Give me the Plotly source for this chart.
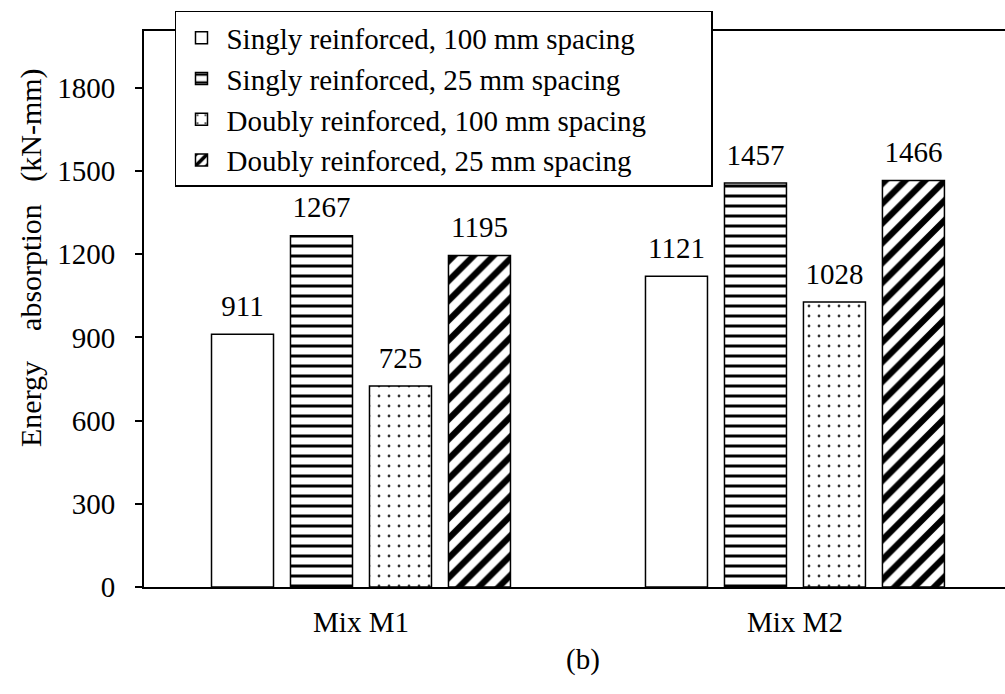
import plotly.graph_objects as go

categories = ["Mix M1", "Mix M2"]
series_names = [
    "Singly reinforced, 100 mm spacing",
    "Singly reinforced, 25 mm spacing",
    "Doubly reinforced, 100 mm spacing",
    "Doubly reinforced, 25 mm spacing",
]
singly_100 = [911, 1121]
singly_25 = [1267, 1457]
doubly_100 = [725, 1028]
doubly_25 = [1195, 1466]
y_ticks = [0, 300, 600, 900, 1200, 1500, 1800]

series_values = [singly_100, singly_25, doubly_100, doubly_25]
patterns = [
    dict(shape=""),
    dict(shape="-", size=10, solidity=0.3, fgcolor="black", bgcolor="white", fgopacity=1),
    dict(shape=".", size=10, solidity=0.06, fgcolor="#333333", bgcolor="white", fgopacity=1),
    dict(shape="/", size=14, solidity=0.45, fgcolor="black", bgcolor="white", fgopacity=1),
]

FONT = "Liberation Serif"
FS = 29
GAP = 0.272

fig = go.Figure()
for i, (name, vals, pat) in enumerate(zip(series_names, series_values, patterns)):
    fig.add_trace(go.Bar(
        x=categories, y=vals, name=name,
        marker=dict(color="white", line=dict(color="black", width=1.5), pattern=pat),
        cliponaxis=False,
    ))
for i, vals in enumerate(series_values):
    fig.add_trace(go.Scatter(
        x=categories, y=vals, mode="markers+text",
        marker=dict(size=16, color="rgba(0,0,0,0)"),
        text=[f"{v}" for v in vals], textposition="top center",
        textfont=dict(family=FONT, size=FS, color="black"),
        showlegend=False, hoverinfo="skip", cliponaxis=False,
    ))

plot_w = 1005 - 144
plot_h = 694 - 31 - 107

fig.update_layout(
    width=1005, height=694,
    margin=dict(l=144, r=0, t=31, b=107),
    paper_bgcolor="white", plot_bgcolor="white",
    font=dict(family=FONT, size=FS, color="black"),
    barmode="group", bargap=GAP, bargroupgap=0.215,
    scattermode="group", scattergap=GAP,
    legend=dict(
        x=0.036, y=1.036, xanchor="left", yanchor="top",
        orientation="h", entrywidth=480, entrywidthmode="pixels",
        itemwidth=40,
        bgcolor="white", bordercolor="black", borderwidth=1.5,
        font=dict(family=FONT, size=FS, color="black"),
        tracegroupgap=0,
    ),
    showlegend=True,
    annotations=[
        dict(text="(b)", x=0.51, y=-0.163, xref="paper", yref="paper",
             showarrow=False, font=dict(family=FONT, size=FS, color="black")),
        dict(text="Energy&nbsp;&nbsp;&nbsp; absorption&nbsp;&nbsp; (kN-mm)",
             textangle=-90, x=(31 - 144) / plot_w, y=(587 - 258) / plot_h,
             xanchor="center", yanchor="middle",
             xref="paper", yref="paper",
             showarrow=False, font=dict(family=FONT, size=30, color="black")),
    ],
)

fig.update_xaxes(
    range=[-0.5, 1.484], showline=True, linecolor="black", linewidth=2,
    mirror=True, ticks="", ticklabelstandoff=8, showgrid=False,
    tickfont=dict(family=FONT, size=FS, color="black"),
)
fig.update_yaxes(
    range=[0, 2005], tickvals=y_ticks, showline=True, linecolor="black",
    linewidth=2, ticks="outside", ticklen=7, tickwidth=1.5, tickcolor="black",
    ticklabelstandoff=14, showgrid=False, zeroline=False,
    tickfont=dict(family=FONT, size=FS, color="black"),
)

fig.write_html("out.html", config={"displayModeBar": False},
               post_script="document.body.style.margin='0';document.body.style.overflow='hidden';")
